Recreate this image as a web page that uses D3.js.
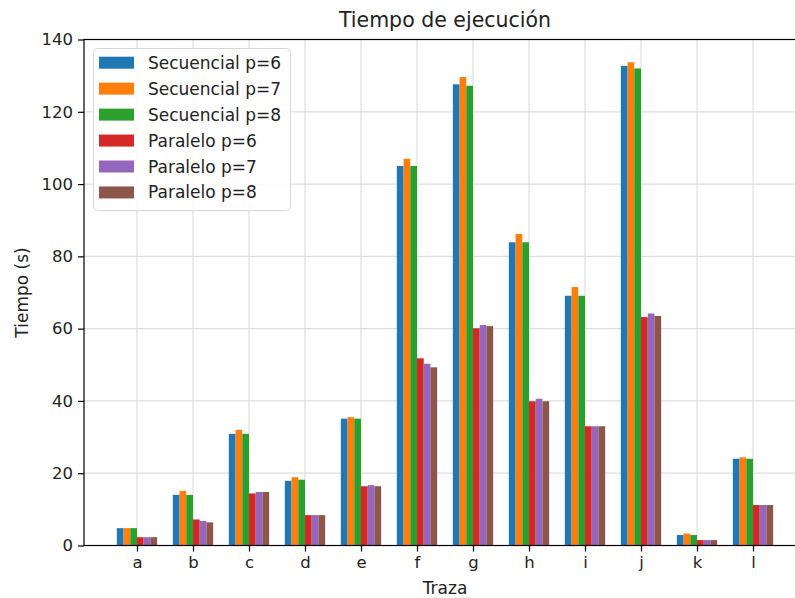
<!DOCTYPE html>
<html>
<head>
<meta charset="utf-8">
<script src="https://cdn.jsdelivr.net/npm/d3@7"></script>
<style>
  html, body { margin: 0; padding: 0; background: #fff; }
  svg { display: block; font-family: "DejaVu Sans", sans-serif; }
</style>
</head>
<body>
<svg id="chart" width="795" height="598"></svg>
<script>
// Trazas evaluadas
const trazas = ["a", "b", "c", "d", "e", "f", "g", "h", "i", "j", "k", "l"];

// Tiempos de ejecución (s) por versión y número de procesos
const secuencialP6 = [4.8, 14.0, 30.9, 17.9, 35.1, 105.0, 127.6, 83.9, 69.1, 132.7, 2.9, 24.0];
const secuencialP7 = [4.8, 15.1, 32.0, 18.9, 35.5, 107.0, 129.6, 86.2, 71.5, 133.7, 3.3, 24.4];
const secuencialP8 = [4.8, 14.0, 30.9, 18.2, 35.1, 105.0, 127.2, 83.9, 69.1, 132.0, 2.9, 24.0];
const paraleloP6   = [2.3, 7.2, 14.4, 8.4, 16.4, 51.8, 60.1, 39.9, 33.0, 63.2, 1.5, 11.2];
const paraleloP7   = [2.3, 6.8, 14.8, 8.4, 16.7, 50.3, 61.0, 40.6, 33.0, 64.2, 1.5, 11.2];
const paraleloP8   = [2.3, 6.4, 14.8, 8.4, 16.4, 49.3, 60.7, 39.9, 33.0, 63.5, 1.5, 11.2];

const nombres = ["Secuencial p=6", "Secuencial p=7", "Secuencial p=8",
                 "Paralelo p=6", "Paralelo p=7", "Paralelo p=8"];
const colores = ["#1f77b4", "#ff7f0e", "#2ca02c", "#d62728", "#9467bd", "#8c564b"];
const yTicks = [0, 20, 40, 60, 80, 100, 120, 140];

const series = [secuencialP6, secuencialP7, secuencialP8, paraleloP6, paraleloP7, paraleloP8]
  .map((vals, k) => ({ name: nombres[k], color: colores[k], values: vals }));

const svg = d3.select("#chart");
const mLeft = 84, mRight = 806, mTop = 39.5, mBottom = 545.5;
const barW = 0.12;

const x = d3.scaleLinear().domain([-0.946, 11.946]).range([mLeft, mRight]);
const y = d3.scaleLinear().domain([0, 140]).range([mBottom, mTop]);

// Rejilla
const grid = svg.append("g").attr("stroke", "#dedede").attr("stroke-width", 1.2);
grid.selectAll("line.h").data(yTicks).join("line")
  .attr("x1", mLeft).attr("x2", mRight)
  .attr("y1", d => y(d)).attr("y2", d => y(d));
grid.selectAll("line.v").data(trazas).join("line")
  .attr("x1", (d, i) => x(i)).attr("x2", (d, i) => x(i))
  .attr("y1", mTop).attr("y2", mBottom);

// Barras agrupadas
series.forEach((s, k) => {
  const off = (k - 2.5) * barW;
  svg.append("g").attr("fill", s.color)
    .selectAll("rect").data(s.values).join("rect")
    .attr("x", (d, i) => x(i + off - barW / 2))
    .attr("width", x(barW) - x(0))
    .attr("y", d => y(d))
    .attr("height", d => y(0) - y(d));
});

// Ejes
const yAxis = d3.axisLeft(y).tickValues(yTicks).tickSize(6).tickPadding(5);
const gy = svg.append("g").attr("transform", `translate(${mLeft},0)`).call(yAxis);
const xAxis = d3.axisBottom(x).tickValues(d3.range(trazas.length))
  .tickFormat(i => trazas[i]).tickSize(6).tickPadding(5);
const gx = svg.append("g").attr("transform", `translate(0,${mBottom})`).call(xAxis);
[gx, gy].forEach(g => {
  g.select(".domain").remove();
  g.selectAll("line").attr("stroke", "#000").attr("stroke-width", 1.2);
  g.selectAll("text").attr("font-size", 16.5).attr("fill", "#222")
    .attr("font-family", "DejaVu Sans, sans-serif");
});

// Marco
svg.append("rect").attr("x", mLeft).attr("y", mTop)
  .attr("width", mRight - mLeft).attr("height", mBottom - mTop)
  .attr("fill", "none").attr("stroke", "#000").attr("stroke-width", 1.2);

// Títulos
svg.append("text").attr("x", (mLeft + mRight) / 2).attr("y", 27)
  .attr("text-anchor", "middle").attr("font-size", 20.5).attr("fill", "#222")
  .text("Tiempo de ejecución");
svg.append("text").attr("x", (mLeft + mRight) / 2).attr("y", 594)
  .attr("text-anchor", "middle").attr("font-size", 17).attr("fill", "#222")
  .text("Traza");
svg.append("text")
  .attr("transform", `translate(28,${(mTop + mBottom) / 2}) rotate(-90)`)
  .attr("text-anchor", "middle").attr("font-size", 17).attr("fill", "#222")
  .text("Tiempo (s)");

// Leyenda
const lg = svg.append("g");
lg.append("rect").attr("x", 93.5).attr("y", 48.5).attr("width", 197).attr("height", 162)
  .attr("rx", 4).attr("fill", "rgba(255,255,255,0.85)")
  .attr("stroke", "#d6d6d6").attr("stroke-width", 1);
const items = lg.selectAll("g.item").data(series).join("g")
  .attr("transform", (d, i) => `translate(0,${62.7 + i * 25.95})`);
items.append("rect").attr("x", 99).attr("y", -6).attr("width", 35).attr("height", 12)
  .attr("fill", d => d.color);
items.append("text").attr("x", 148).attr("y", 6).attr("font-size", 17).attr("fill", "#222")
  .text(d => d.name);
</script>
</body>
</html>
